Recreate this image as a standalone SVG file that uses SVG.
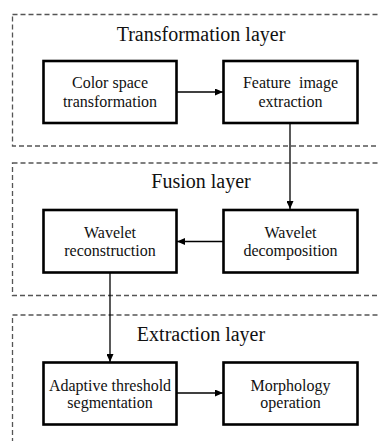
<svg xmlns="http://www.w3.org/2000/svg" width="378" height="441" viewBox="0 0 378 441">
<style>
.layer{fill:none;stroke:#555;stroke-width:1.3;stroke-dasharray:5 3}
.node rect{fill:#fff;stroke:#000;stroke-width:2.6}
.title{font-family:'Liberation Serif','Times New Roman',Times,serif;font-size:20px;fill:#111;text-anchor:middle}
.lbl{font-family:'Liberation Serif','Times New Roman',Times,serif;font-size:16px;fill:#111;text-anchor:middle}
.conn line{stroke:#000;stroke-width:1.3;fill:none}
</style>
<defs>
<marker id="ah" markerWidth="8" markerHeight="7" refX="8" refY="3.5" orient="auto" markerUnits="userSpaceOnUse">
<path d="M0,0 L8,3.5 L0,7 Z" fill="#000"/>
</marker>
</defs>
<rect width="378" height="441" fill="#fff"/>
<g id="layer-transformation">
<rect class="layer" x="12.5" y="14.5" width="380" height="131.5"/>
<text class="title" x="201" y="41" font-family="Liberation Serif, serif">Transformation layer</text>
</g>
<g id="layer-fusion">
<rect class="layer" x="12.5" y="163" width="380" height="132.5"/>
<text class="title" x="201" y="188" font-family="Liberation Serif, serif">Fusion layer</text>
</g>
<g id="layer-extraction">
<rect class="layer" x="12.5" y="315" width="380" height="140"/>
<text class="title" x="201" y="341" font-family="Liberation Serif, serif">Extraction layer</text>
</g>
<g class="conn" id="connectors">
<line x1="177" y1="92" x2="223" y2="92" marker-end="url(#ah)"/>
<line x1="290" y1="123" x2="290" y2="209" marker-end="url(#ah)"/>
<line x1="223" y1="241.5" x2="177" y2="241.5" marker-end="url(#ah)"/>
<line x1="110" y1="273" x2="110" y2="362" marker-end="url(#ah)"/>
<line x1="177" y1="393" x2="223" y2="393" marker-end="url(#ah)"/>
</g>
<g class="node" id="n-color">
<rect x="43.5" y="61" width="133" height="62"/>
<text class="lbl" x="110" y="88">Color space</text>
<text class="lbl" x="110" y="107">transformation</text>
</g>
<g class="node" id="n-feature">
<rect x="223.5" y="61" width="134" height="62"/>
<text class="lbl" x="290.5" y="88" xml:space="preserve">Feature  image</text>
<text class="lbl" x="290.5" y="107">extraction</text>
</g>
<g class="node" id="n-recon">
<rect x="43.5" y="210" width="133" height="62.5"/>
<text class="lbl" x="110" y="238">Wavelet</text>
<text class="lbl" x="110" y="256">reconstruction</text>
</g>
<g class="node" id="n-decomp">
<rect x="223.5" y="210" width="134" height="62.5"/>
<text class="lbl" x="290.5" y="238">Wavelet</text>
<text class="lbl" x="290.5" y="256">decomposition</text>
</g>
<g class="node" id="n-adaptive">
<rect x="43.5" y="362.5" width="133" height="62"/>
<text class="lbl" x="110" y="391">Adaptive threshold</text>
<text class="lbl" x="110" y="408">segmentation</text>
</g>
<g class="node" id="n-morph">
<rect x="223.5" y="362.5" width="134" height="62"/>
<text class="lbl" x="290.5" y="391">Morphology</text>
<text class="lbl" x="290.5" y="408">operation</text>
</g>
</svg>
